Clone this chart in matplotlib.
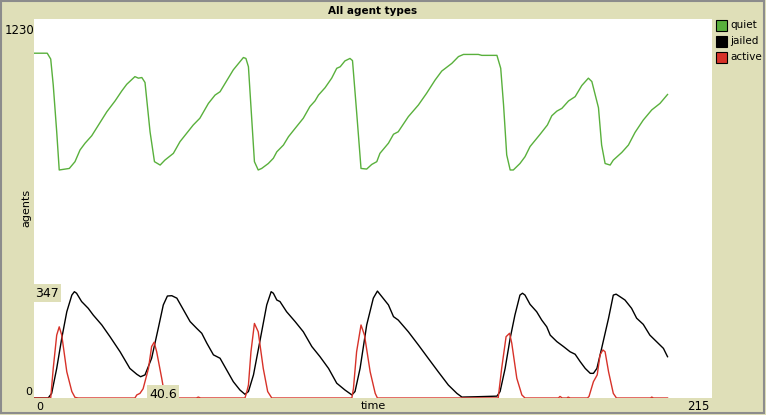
import matplotlib
matplotlib.use("Agg")
from matplotlib import pyplot as plt
from matplotlib.patches import Rectangle

# values (tick, count)
quiet_t = [0, 4.2, 5.3, 6.1, 7.2, 8.0, 11.2, 13.0, 14.6, 16.2,
           18.3, 19.9, 23.1, 25.7, 27.8, 29.4, 32.0, 33.1, 34.2, 35.2,
           36.8, 38.2, 40.0, 41.5, 44.2, 46.3, 50.5, 52.6, 55.3, 57.4,
           59.0, 63.2, 66.4, 67.2, 68.0, 69.9, 71.1, 72.2, 74.3, 75.9,
           77.0, 79.1, 80.7, 82.8, 85.4, 87.5, 89.1, 90.2, 92.3, 94.4,
           96.0, 97.1, 98.6, 100.2, 101.0, 102.3, 103.7, 105.5, 107.1, 108.7,
           109.7, 112.4, 114.0, 115.5, 118.7, 121.9, 124.5, 127.2, 129.3, 132.5,
           134.6, 136.2, 140.9, 142.0, 146.8, 148.0, 148.9, 149.9, 151.0, 152.0,
           154.1, 155.7, 157.3, 160.5, 162.8, 164.2, 165.8, 167.4, 169.5, 171.6,
           173.7, 175.8, 176.9, 179.0, 180.0, 181.1, 182.7, 183.7, 186.4, 188.5,
           190.6, 193.2, 195.9, 198.5, 200.9]
quiet = [1119, 1119, 1100, 1016, 864, 740, 745, 767, 805, 827,
         851, 877, 929, 964, 996, 1018, 1043, 1038, 1040, 1024,
         864, 767, 756, 772, 794, 832, 886, 908, 956, 983,
         994, 1065, 1105, 1102, 1075, 767, 740, 745, 761, 778,
         799, 821, 848, 875, 908, 946, 964, 983, 1007, 1038,
         1070, 1075, 1094, 1102, 1095, 929, 745, 743, 758, 767,
         794, 827, 856, 864, 913, 951, 989, 1032, 1061, 1086,
         1108, 1115, 1115, 1112, 1112, 1070, 951, 789, 740, 740,
         761, 783, 816, 856, 886, 916, 931, 940, 964, 978,
         1014, 1038, 1027, 942, 821, 761, 756, 772, 797, 821,
         862, 902, 935, 956, 985]

jailed_t = [0, 4.5, 5.6, 7.2, 8.8, 10.4, 12.0, 12.8, 13.5, 15.1,
            17.2, 18.8, 21.5, 24.1, 27.3, 30.4, 32.6, 33.8, 35.2, 37.3,
            39.4, 41.0, 42.3, 43.7, 45.3, 47.4, 49.5, 51.6, 53.2, 54.8,
            56.9, 59.0, 61.1, 63.2, 65.3, 66.9, 68.0, 69.6, 71.7, 73.8,
            75.2, 75.9, 77.0, 78.0, 80.1, 82.8, 85.4, 88.1, 90.7, 93.4,
            96.0, 98.6, 100.8, 101.8, 103.4, 105.5, 107.6, 108.9, 110.3, 112.4,
            114.0, 115.5, 118.7, 121.9, 125.0, 128.2, 131.4, 134.1, 135.7, 140.0,
            146.8, 147.8, 149.4, 151.0, 152.5, 154.1, 154.9, 155.7, 157.3, 159.4,
            161.0, 162.6, 163.7, 165.8, 167.9, 170.0, 171.6, 173.2, 174.8, 176.4,
            177.4, 178.5, 180.0, 182.2, 183.7, 184.6, 185.8, 187.4, 189.5, 191.1,
            193.2, 195.3, 197.4, 199.6, 200.9]
jailed = [0, 0, 15, 96, 194, 280, 334, 345, 340, 313,
          291, 269, 237, 199, 150, 96, 77, 69, 75, 129,
          226, 302, 331, 332, 324, 286, 248, 226, 210, 178,
          140, 129, 91, 53, 26, 12, 21, 75, 188, 302,
          345, 340, 318, 313, 280, 248, 215, 167, 134, 96,
          48, 26, 10, 21, 96, 237, 324, 347, 329, 302,
          264, 253, 215, 172, 129, 85, 42, 15, 3, 4,
          6, 21, 96, 194, 269, 334, 340, 334, 304, 280,
          253, 231, 204, 183, 167, 150, 142, 118, 96, 80,
          80, 96, 161, 259, 334, 337, 329, 318, 291, 259,
          239, 204, 183, 161, 134]

active_t = [0, 5.3, 6.1, 7.2, 8.0, 8.8, 10.4, 12.0, 13.0, 14.0,
            32.0, 32.6, 33.6, 34.6, 36.3, 37.3, 38.1, 38.9, 40.5, 41.5,
            42.5, 51.5, 52.1, 52.8, 66.9, 67.5, 68.0, 68.8, 69.9, 71.1,
            72.7, 74.1, 75.4, 100.8, 101.3, 102.3, 103.7, 104.8, 106.6, 108.2,
            108.9, 147.2, 148.3, 149.7, 150.8, 151.5, 153.1, 154.7, 155.7, 166.3,
            166.8, 167.5, 169.0, 169.4, 170.0, 175.5, 176.0, 177.4, 178.6, 179.5,
            180.4, 181.1, 182.2, 183.7, 184.7, 195.5, 195.9, 196.4, 200.9]
active = [0, 0, 96, 204, 231, 204, 85, 21, 2, 0,
          0, 10, 15, 30, 96, 167, 181, 150, 64, 5,
          0, 0, 3, 0, 0, 21, 42, 150, 242, 215,
          96, 21, 0, 0, 31, 150, 237, 204, 85, 15,
          0, 0, 96, 199, 210, 178, 64, 10, 0, 0,
          5, 0, 0, 3, 0, 0, 5, 53, 75, 140,
          156, 150, 85, 15, 0, 0, 3, 0, 0]

names = ["quiet", "jailed", "active"]
colors = ["#59b03c", "#000000", "#d73229"]

W, H = 766, 415
bg = "#dfdfb8"

def fx(x):
    return x / W

def fy(y):
    return 1 - y / H

fig = plt.figure(figsize=(W / 100, H / 100), dpi=100, facecolor=bg)
fig.patches.append(Rectangle((fx(1), fy(413)), fx(763), 412 / H, transform=fig.transFigure,
                             fill=False, ec="#8c8c8c", lw=1.5))

ax = fig.add_axes([fx(34), fy(398), fx(712 - 34), (398 - 19) / H])
ax.set_facecolor("white")
ax.plot(quiet_t, quiet, color=colors[0], lw=1)
ax.plot(jailed_t, jailed, color=colors[1], lw=1)
ax.plot(active_t, active, color=colors[2], lw=1)
ax.set_xlim(0, 215)
ax.set_ylim(0, 1230)
ax.set_xticks([])
ax.set_yticks([])
for s in ax.spines.values():
    s.set_visible(False)

fs = 8
fig.text(fx(373), fy(11), "All agent types", ha="center", va="center", fontsize=7.5, fontweight="bold")
fig.text(fx(5), fy(30), "1230", ha="left", va="center", fontsize=8.5)
fig.text(fx(32), fy(392), "0", ha="right", va="center", fontsize=fs)
fig.text(fx(36), fy(407), "0", ha="left", va="center", fontsize=fs)
fig.text(fx(709), fy(406), "215", ha="right", va="center", fontsize=8.5)
fig.text(fx(373), fy(406), "time", ha="center", va="center", fontsize=fs)
fig.text(fx(26), fy(208), "agents", ha="center", va="center", rotation=90, fontsize=fs)

# hover read-outs
fig.text(fx(35), fy(293), "347", ha="left", va="center", fontsize=9,
         bbox=dict(fc=bg, ec="none", pad=1.5))
fig.text(fx(149), fy(394), "40.6", ha="left", va="center", fontsize=9,
         bbox=dict(fc=bg, ec="none", pad=1.5))

for i, name in enumerate(names):
    top = 20 + i * 16
    fig.patches.append(Rectangle((fx(716), fy(top + 11)), fx(11), 11 / H, transform=fig.transFigure,
                                 fc=colors[i], ec="black", lw=0.8))
    fig.text(fx(730), fy(top + 5.5), name, ha="left", va="center", fontsize=7.5)

fig.savefig("out.png", dpi=100, facecolor=bg)
